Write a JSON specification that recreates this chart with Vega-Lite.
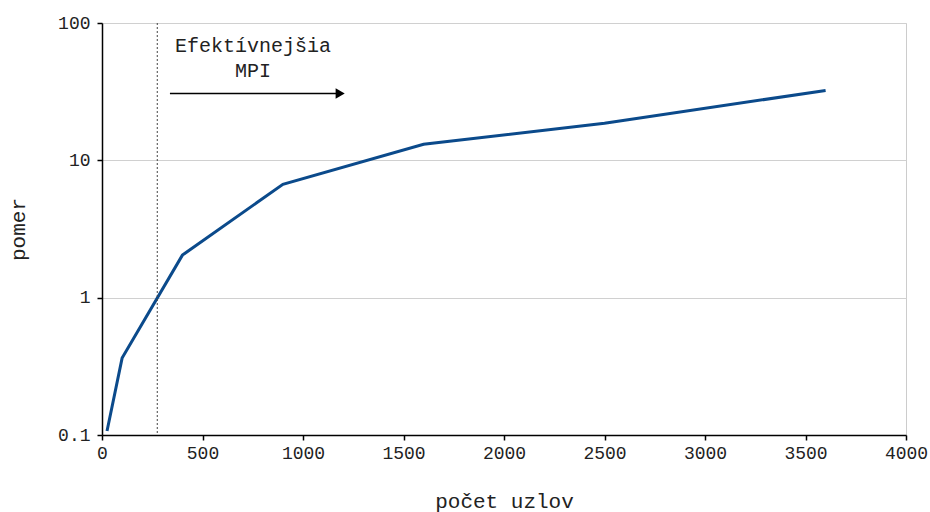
{
  "$schema": "https://vega.github.io/schema/vega-lite/v6.json",
  "width": 804,
  "height": 412,
  "autosize": {"type": "none"},
  "padding": {"left": 102, "top": 23, "right": 24, "bottom": 77},
  "background": "white",
  "config": {
    "font": "Liberation Mono",
    "view": {"stroke": "#cccccc", "strokeWidth": 1},
    "axis": {
      "labelFont": "Liberation Mono",
      "titleFont": "Liberation Mono",
      "labelColor": "#222222",
      "titleColor": "#222222",
      "titleFontWeight": "normal",
      "domainColor": "#000000",
      "tickColor": "#000000",
      "domainWidth": 1.5,
      "tickWidth": 1.5
    }
  },
  "datasets": {
    "series": [
      {"uzly": 25, "pomer": 0.107},
      {"uzly": 100, "pomer": 0.363},
      {"uzly": 400, "pomer": 2.04},
      {"uzly": 900, "pomer": 6.69},
      {"uzly": 1600, "pomer": 13.1},
      {"uzly": 2500, "pomer": 18.6},
      {"uzly": 3600, "pomer": 32.3}
    ],
    "labels": [
      {"x": 751, "y": 67.5, "t": "Efektívnejšia"},
      {"x": 751, "y": 44.4, "t": "MPI"}
    ]
  },
  "layer": [
    {
      "data": {"name": "series"},
      "mark": {"type": "line", "color": "#0b4a8b", "strokeWidth": 3},
      "encoding": {
        "x": {
          "field": "uzly", "type": "quantitative",
          "scale": {"domain": [0, 4000], "nice": false},
          "axis": {
            "title": "počet uzlov",
            "values": [0, 500, 1000, 1500, 2000, 2500, 3000, 3500, 4000],
            "format": "d",
            "grid": false,
            "labelFontSize": 18,
            "titleFontSize": 21,
            "tickSize": 5,
            "labelPadding": 4,
            "titlePadding": 28,
            "labelFlush": false
          }
        },
        "y": {
          "field": "pomer", "type": "quantitative",
          "scale": {"type": "log", "domain": [0.1, 100], "nice": false},
          "axis": {
            "title": "pomer",
            "values": [0.1, 1, 10, 100],
            "labelExpr": "format(datum.value, '~g')",
            "grid": true,
            "gridColor": "#d0d0d0",
            "labelFontSize": 18,
            "titleFontSize": 21,
            "tickSize": 5,
            "labelPadding": 7,
            "titleX": -84,
            "titleY": 206,
            "titleBaseline": "middle",
            "labelFlush": false
          }
        }
      }
    },
    {
      "data": {"values": [{"x": 275}]},
      "mark": {"type": "rule", "color": "#444444", "strokeWidth": 1, "strokeDash": [2, 2]},
      "encoding": {"x": {"field": "x", "type": "quantitative"}}
    },
    {
      "data": {"values": [{"x": 338, "x2": 1180, "y": 30.7}]},
      "mark": {"type": "rule", "color": "#000000", "strokeWidth": 1.5},
      "encoding": {
        "x": {"field": "x", "type": "quantitative"},
        "x2": {"field": "x2"},
        "y": {"field": "y", "type": "quantitative"}
      }
    },
    {
      "data": {"values": [{"x": 1185, "y": 30.7}]},
      "mark": {"type": "point", "shape": "triangle-right", "filled": true, "color": "#000000", "size": 110, "opacity": 1},
      "encoding": {
        "x": {"field": "x", "type": "quantitative"},
        "y": {"field": "y", "type": "quantitative"}
      }
    },
    {
      "data": {"name": "labels"},
      "mark": {"type": "text", "font": "Liberation Mono", "fontSize": 20, "color": "#222222", "align": "center", "baseline": "middle"},
      "encoding": {
        "x": {"field": "x", "type": "quantitative"},
        "y": {"field": "y", "type": "quantitative"},
        "text": {"field": "t"}
      }
    }
  ]
}
